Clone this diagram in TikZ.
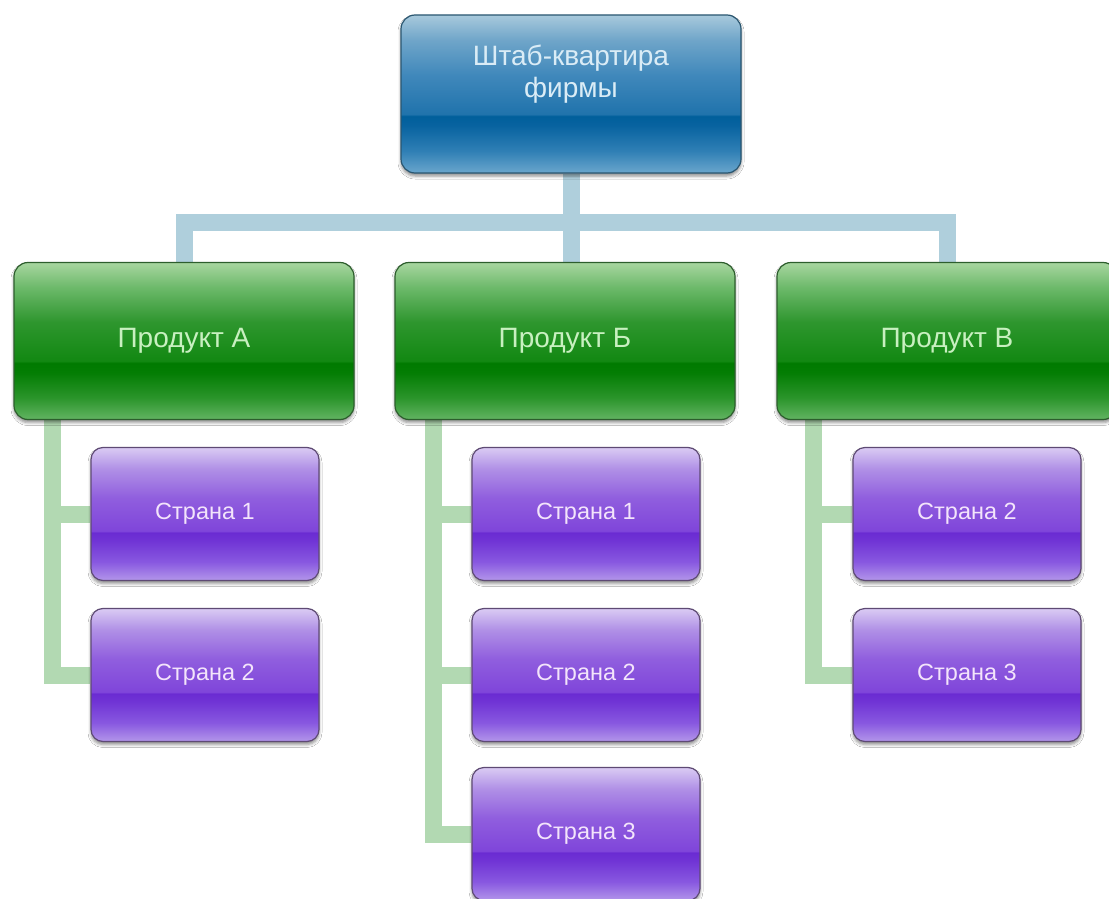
\documentclass[tikz,border=0pt]{standalone}
\usepackage{fontspec}
\setmainfont{Liberation Sans}
\usetikzlibrary{calc,shadows.blur,backgrounds}

% palette
\definecolor{hqA}{HTML}{6AA6CC}
\definecolor{hqB}{HTML}{2F7FB5}
\definecolor{hqC}{HTML}{0863A0}
\definecolor{hqD}{HTML}{005F9B}
\definecolor{hqE}{HTML}{2073AC}
\definecolor{hqF}{HTML}{4088BB}
\definecolor{hqH}{HTML}{6FA5C9}
\definecolor{hqG}{HTML}{A8C9DC}
\definecolor{hqEdge}{HTML}{2A5670}
\definecolor{hqText}{HTML}{DAECF6}

\definecolor{prA}{HTML}{62B462}
\definecolor{prB}{HTML}{2A942A}
\definecolor{prC}{HTML}{037D03}
\definecolor{prD}{HTML}{007A00}
\definecolor{prE}{HTML}{128812}
\definecolor{prF}{HTML}{2E962E}
\definecolor{prH}{HTML}{6CB96A}
\definecolor{prG}{HTML}{A8D6A0}
\definecolor{prEdge}{HTML}{2D5E2D}
\definecolor{prText}{HTML}{C8F0C0}

\definecolor{ctA}{HTML}{B396EA}
\definecolor{ctB}{HTML}{8858E0}
\definecolor{ctC}{HTML}{7034D5}
\definecolor{ctD}{HTML}{6A2BD2}
\definecolor{ctE}{HTML}{7F45DA}
\definecolor{ctF}{HTML}{905EDE}
\definecolor{ctH}{HTML}{B090E6}
\definecolor{ctG}{HTML}{DACBF3}
\definecolor{ctEdge}{HTML}{5E4A74}
\definecolor{ctText}{HTML}{F3E4FB}

\definecolor{hqLine}{HTML}{AFCFDC}
\definecolor{prLine}{HTML}{B2D9B2}

% glossy fills: the box spans 25bp (bottom) .. 75bp (top)
\pgfdeclareverticalshading{hqglass}{100bp}{color(0bp)=(hqA); color(25bp)=(hqA);
  color(32bp)=(hqB); color(40bp)=(hqC); color(43bp)=(hqD); color(43.6bp)=(hqE);
  color(56bp)=(hqF); color(67bp)=(hqH); color(75bp)=(hqG); color(100bp)=(hqG)}
\pgfdeclareverticalshading{prglass}{100bp}{color(0bp)=(prA); color(25bp)=(prA);
  color(32bp)=(prB); color(40bp)=(prC); color(43bp)=(prD); color(43.6bp)=(prE);
  color(56bp)=(prF); color(67bp)=(prH); color(75bp)=(prG); color(100bp)=(prG)}
\pgfdeclareverticalshading{ctglass}{100bp}{color(0bp)=(ctA); color(25bp)=(ctA);
  color(32bp)=(ctB); color(40bp)=(ctC); color(43bp)=(ctD); color(43.6bp)=(ctE);
  color(56bp)=(ctF); color(67bp)=(ctH); color(75bp)=(ctG); color(100bp)=(ctG)}

\tikzset{
  glassbox/.style={rounded corners=14pt, line width=1.2pt, inner sep=0pt,
    blur shadow={shadow xshift=0pt, shadow yshift=-3pt, shadow blur radius=3pt, shadow opacity=45}},
  hqbox/.style={glassbox, shading=hqglass, draw=hqEdge, minimum width=340pt, minimum height=158pt},
  hqlabel/.style={text=hqText, align=center, font=\fontsize{28}{32}\selectfont},
  prodbox/.style={glassbox, shading=prglass, draw=prEdge, minimum width=340pt, minimum height=157pt,
    text=prText, font=\fontsize{28}{32}\selectfont},
  ctrybox/.style={glassbox, rounded corners=12pt, shading=ctglass, draw=ctEdge,
    minimum width=228pt, minimum height=133pt, text=ctText, font=\fontsize{23.5}{28}\selectfont},
  hqlink/.style={draw=hqLine, line width=17pt, line join=miter},
  prlink/.style={draw=prLine, line width=17pt, line join=miter},
}

\begin{document}
\begin{tikzpicture}[x=1pt, y=-1pt]
  \useasboundingbox (0,0) rectangle (1109,899);

  % head office
  \node[hqbox] (hq) at (571,94) {};
  \node[hqlabel] (hqt) at (571,74) {Штаб-квартира\\фирмы};

  % products
  \node[prodbox] (gA) at (184,341) {Продукт А};
  \node[prodbox] (gB) at (565,341) {Продукт Б};
  \node[prodbox] (gC) at (947,341) {Продукт В};

  % countries
  \node[ctrybox] (pA1) at (205,514) {Страна 1};
  \node[ctrybox] (pA2) at (205,675) {Страна 2};
  \node[ctrybox] (pB1) at (586,514) {Страна 1};
  \node[ctrybox] (pB2) at (586,675) {Страна 2};
  \node[ctrybox] (pB3) at (586,834) {Страна 3};
  \node[ctrybox] (pC1) at (967,514) {Страна 2};
  \node[ctrybox] (pC2) at (967,675) {Страна 3};

  \begin{scope}[on background layer]
    \fill[white] (0,0) rectangle (1109,899);

    % head office to products
    \coordinate (bar) at (571,222);
    \draw[hqlink] (hq.south) -- (hq.south |- gB.north);
    \draw[hqlink] (gA.north) -- (gA.north |- bar) -- (gC.north |- bar) -- (gC.north);

    % products to countries
    \coordinate (sA) at ($(gA.south west)+(39,0)$);
    \coordinate (sB) at ($(gB.south west)+(39,0)$);
    \coordinate (sC) at ($(gC.south west)+(37,0)$);
    \draw[prlink] (sA) |- (pA1.west);
    \draw[prlink] (sA) |- (pA2.west);
    \draw[prlink] (sB) |- (pB1.west);
    \draw[prlink] (sB) |- (pB2.west);
    \draw[prlink] (sB) |- (pB3.west);
    \draw[prlink] (sC) |- (pC1.west);
    \draw[prlink] (sC) |- (pC2.west);
  \end{scope}
\end{tikzpicture}
\end{document}
